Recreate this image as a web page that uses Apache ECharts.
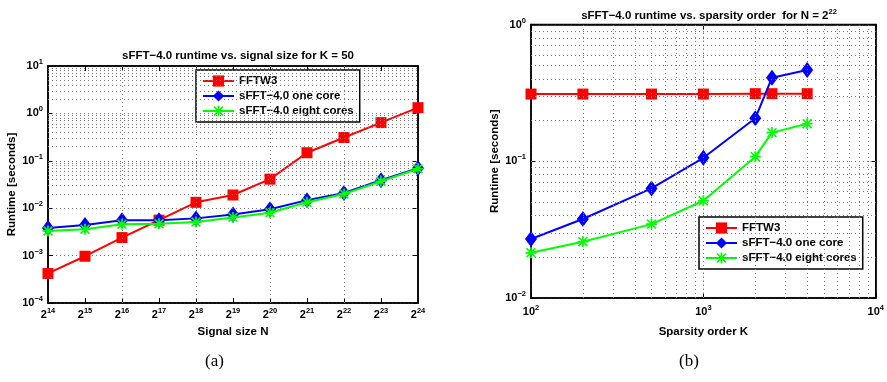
<!DOCTYPE html>
<html>
<head>
<meta charset="utf-8">
<script src="https://cdn.jsdelivr.net/npm/echarts@6/dist/echarts.min.js"></script>
<style>
  html, body { margin: 0; padding: 0; background: #fff; }
  #chart { width: 887px; height: 382px; }
</style>
</head>
<body>
<div id="chart"></div>
<script>
// (a) runtime vs signal size, x = log2(N)
const sizeExp = [14, 15, 16, 17, 18, 19, 20, 21, 22, 23, 24];
const sizeFftw = [0.00042, 0.00097, 0.0024, 0.0056, 0.0133, 0.019, 0.041, 0.148, 0.31, 0.64, 1.32];
const sizeOneCore = [0.0038, 0.0044, 0.0056, 0.0056, 0.0061, 0.0074, 0.0095, 0.0148, 0.021, 0.039, 0.07];
const sizeEightCores = [0.0033, 0.0036, 0.0046, 0.0047, 0.0051, 0.0064, 0.008, 0.0133, 0.02, 0.037, 0.068];

// (b) runtime vs sparsity order, N = 2^22
const sparsityK = [100, 200, 500, 1000, 2000, 2500, 4000];
const sparsityFftw = [0.31, 0.31, 0.31, 0.31, 0.312, 0.312, 0.312];
const sparsityOneCore = [0.027, 0.0378, 0.0633, 0.106, 0.206, 0.408, 0.465];
const sparsityEightCores = [0.0214, 0.0258, 0.0347, 0.0514, 0.108, 0.162, 0.188];

const seriesNames = ["FFTW3", "sFFT\u22124.0 one core", "sFFT\u22124.0 eight cores"];
const FONT = "Liberation Sans";
const starPath = "path://M8.5 0H11.5V20H8.5Z M0 8.5H20V11.5H0Z M3 1L19 17L17 19L1 3Z M17 1L19 3L3 19L1 17Z";

const chart = echarts.init(document.getElementById("chart"));

const sup = (base, e) => "{b|" + base + "}{s|" + String(e).replace("-", "\u2212") + "}";
const tickRich = {
  b: { fontFamily: FONT, fontWeight: "bold", fontSize: 11, color: "#000", lineHeight: 16 },
  s: { fontFamily: FONT, fontWeight: "bold", fontSize: 7.5, color: "#000", verticalAlign: "top", lineHeight: 9 },
};

// minor log gridlines: 2..9 times each power of ten in range
function logMinor(lo, hi) {
  const out = [];
  for (let p = lo; p < hi; p++) {
    for (let m = 1; m <= 9; m++) {
      if (p === lo && m === 1) continue;
      out.push(m * Math.pow(10, p));
    }
  }
  return out;
}

const gridLine = { type: [1, 3], color: "#7a7a7a", width: 1 };

function pair(xs, ys) {
  return xs.map((x, i) => [x, ys[i]]);
}

function dataSeries(idx, xs, ys, gi) {
  const styles = [
    { color: "#ff0000", symbol: "rect", symbolSize: 11 },
    { color: "#0000ff", symbol: "diamond", symbolSize: [12, 16] },
    { color: "#00ff00", symbol: starPath, symbolSize: 11 },
  ];
  const st = styles[idx];
  return {
    type: "line",
    name: seriesNames[idx],
    xAxisIndex: gi,
    yAxisIndex: gi,
    data: pair(xs, ys),
    symbol: st.symbol,
    symbolSize: st.symbolSize,
    showSymbol: true,
    z: 3 + idx,
    lineStyle: { color: st.color, width: 2 },
    itemStyle: { color: st.color },
  };
}

function gridSeries(gi, marks) {
  return {
    type: "line",
    name: "grid" + gi,
    xAxisIndex: gi,
    yAxisIndex: gi,
    data: [],
    z: 1,
    markLine: {
      silent: true,
      symbol: "none",
      label: { show: false },
      lineStyle: gridLine,
      data: marks,
    },
  };
}

const leftMarks = logMinor(-4, 1).map((v) => ({ yAxis: v }))
  .concat([16, 18, 20, 22].map((v) => ({ xAxis: v })));
const rightMarks = logMinor(-2, 0).map((v) => ({ yAxis: v }))
  .concat(logMinor(2, 4).map((v) => ({ xAxis: v })));

const legendBase = {
  data: seriesNames,
  orient: "vertical",
  backgroundColor: "#fff",
  borderColor: "#000",
  borderWidth: 1.5,
  borderRadius: 0,
  itemWidth: 31,
  itemHeight: 14,
  itemGap: 3,
  padding: [5, 6, 5, 6],
  selectedMode: false,
  textStyle: { fontFamily: FONT, fontWeight: "bold", fontSize: 11.5, color: "#000" },
};

const axisCommon = {
  axisLine: { show: true, lineStyle: { color: "#000", width: 1.5 } },
  axisTick: { show: true, inside: true, length: 5, lineStyle: { color: "#000" } },
  nameTextStyle: { fontFamily: FONT, fontWeight: "bold", fontSize: 11.5, color: "#000" },
};

// mirror axes on top / right, ticks only (matlab box)
function mirror(base, pos) {
  return Object.assign({}, base, {
    position: pos, name: "",
    axisLabel: { show: false },
    splitLine: { show: false },
  });
}

const xLeft = Object.assign({}, axisCommon, {
  type: "value", gridIndex: 0, min: 14, max: 24, interval: 1,
  name: "Signal size N", nameLocation: "middle", nameGap: 22,
  splitLine: { show: false },
  axisLabel: { margin: 4, formatter: (v) => sup(2, v), rich: tickRich },
});
const xRight = Object.assign({}, axisCommon, {
  type: "log", gridIndex: 1, min: 100, max: 10000,
  name: "Sparsity order K", nameLocation: "middle", nameGap: 28,
  splitLine: { show: true, lineStyle: gridLine },
  axisLabel: { margin: 6, formatter: (v) => sup(10, Math.round(Math.log10(v))), rich: tickRich },
});
const yLeft = Object.assign({}, axisCommon, {
  type: "log", gridIndex: 0, min: 0.0001, max: 10,
  name: "Runtime [seconds]", nameLocation: "middle", nameGap: 30,
  splitLine: { show: true, lineStyle: gridLine },
  axisLabel: { margin: 5, formatter: (v) => sup(10, Math.round(Math.log10(v))), rich: tickRich },
});
const yRight = Object.assign({}, axisCommon, {
  type: "log", gridIndex: 1, min: 0.01, max: 1,
  name: "Runtime [seconds]", nameLocation: "middle", nameGap: 30,
  splitLine: { show: true, lineStyle: gridLine },
  axisLabel: { margin: 5, formatter: (v) => sup(10, Math.round(Math.log10(v))), rich: tickRich },
});

chart.setOption({
  animation: false,
  title: [
    {
      text: "sFFT\u22124.0 runtime vs. signal size for K = 50",
      left: 233, top: 45, textAlign: "center",
      textStyle: { fontFamily: FONT, fontWeight: "bold", fontSize: 11.5, color: "#000" },
    },
    {
      text: "{a|sFFT\u22124.0 runtime vs. sparsity order  for N = 2}{s|22}",
      left: 704, top: 3, textAlign: "center",
      textStyle: {
        rich: {
          a: { fontFamily: FONT, fontWeight: "bold", fontSize: 11.5, color: "#000", lineHeight: 16 },
          s: { fontFamily: FONT, fontWeight: "bold", fontSize: 7.5, color: "#000", verticalAlign: "top", lineHeight: 9 },
        },
      },
    },
  ],
  legend: [
    Object.assign({}, legendBase, { left: 196, top: 70 }),
    Object.assign({}, legendBase, { left: 699, top: 217 }),
  ],
  grid: [
    { left: 48, right: 469, top: 66, bottom: 79, show: true, borderColor: "#000", borderWidth: 1.5, backgroundColor: "#fff" },
    { left: 531, right: 9, top: 24.5, bottom: 84, show: true, borderColor: "#000", borderWidth: 1.5, backgroundColor: "#fff" },
  ],
  xAxis: [xLeft, xRight, mirror(xLeft, "top"), mirror(xRight, "top")],
  yAxis: [yLeft, yRight, mirror(yLeft, "right"), mirror(yRight, "right")],
  series: [
    gridSeries(0, leftMarks),
    dataSeries(0, sizeExp, sizeFftw, 0),
    dataSeries(1, sizeExp, sizeOneCore, 0),
    dataSeries(2, sizeExp, sizeEightCores, 0),
    gridSeries(1, rightMarks),
    dataSeries(0, sparsityK, sparsityFftw, 1),
    dataSeries(1, sparsityK, sparsityOneCore, 1),
    dataSeries(2, sparsityK, sparsityEightCores, 1),
  ],
  graphic: [
    { type: "text", left: 205, top: 353, style: { text: "(a)", font: "17px 'Liberation Serif'", fill: "#000" } },
    { type: "text", left: 679, top: 353, style: { text: "(b)", font: "17px 'Liberation Serif'", fill: "#000" } },
  ],
});
</script>
</body>
</html>
